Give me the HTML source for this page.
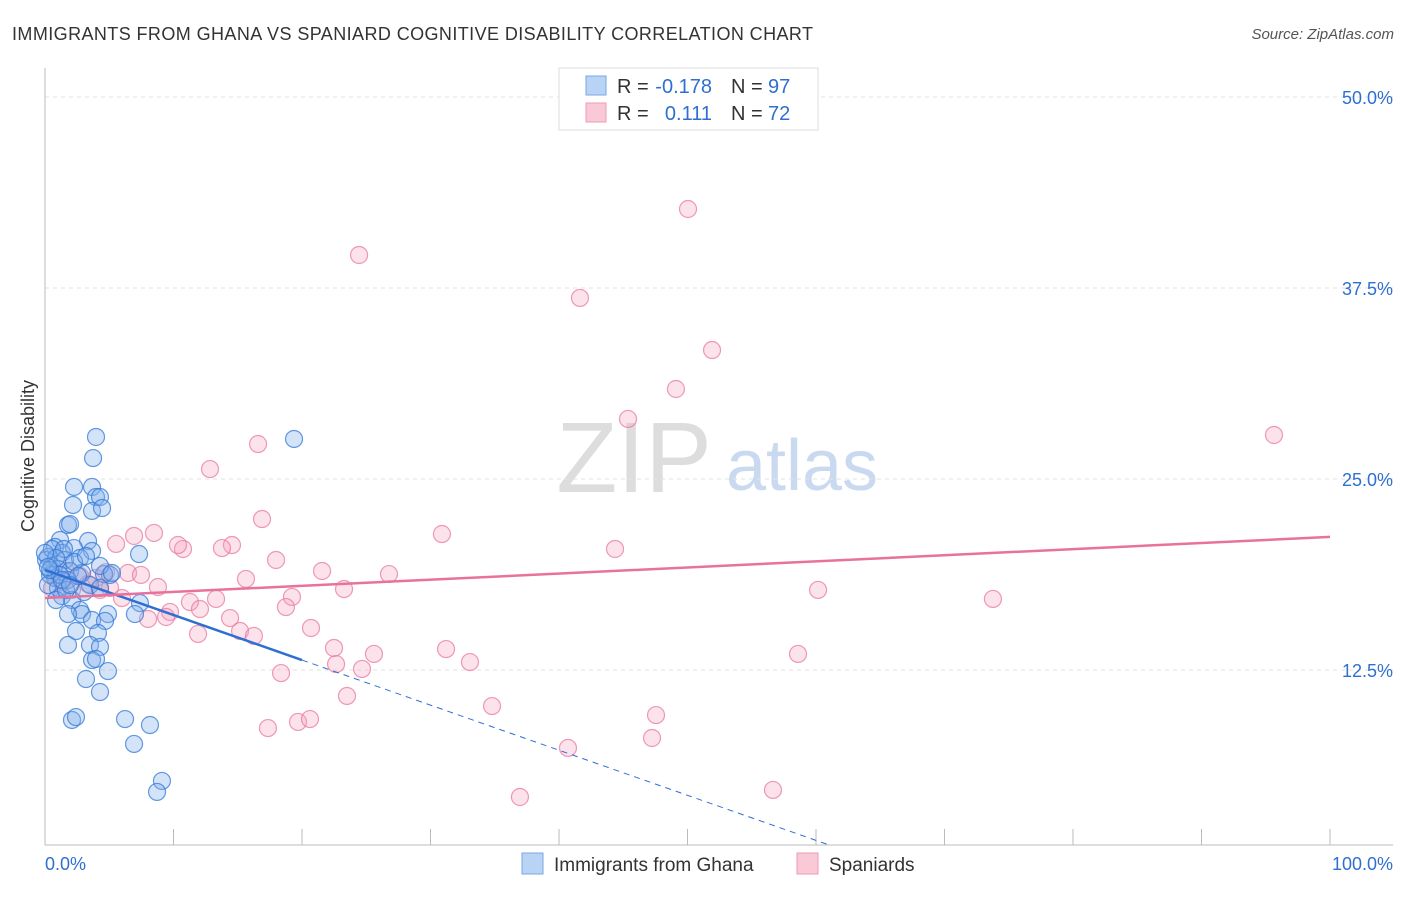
<!DOCTYPE html>
<html><head><meta charset="utf-8"><style>
body{margin:0;background:#fff;font-family:"Liberation Sans",sans-serif}
svg text{font-family:"Liberation Sans",sans-serif}
</style></head><body>
<svg id="c" width="1406" height="892">
<text x="12" y="40" font-size="18" textLength="801" fill="#333">IMMIGRANTS FROM GHANA VS SPANIARD COGNITIVE DISABILITY CORRELATION CHART</text>
<text x="1394" y="39" font-size="15" fill="#555" font-style="italic" text-anchor="end">Source: ZipAtlas.com</text>
<text x="34" y="456" font-size="18" fill="#333" text-anchor="middle" transform="rotate(-90 34 456)">Cognitive Disability</text>
<g><text x="634" y="492" font-size="100" fill="#ddd" font-family="Liberation Serif" text-anchor="middle">ZIP</text><text x="802" y="490" font-size="72" fill="#c9d9f0" text-anchor="middle">atlas</text></g>
<g id="grid"></g><g id="pts"></g><g id="lines"></g>
<g>
<rect x="559" y="68" width="259" height="62" fill="#fff" stroke="#ddd"/>
<rect x="586" y="76" width="20" height="19" fill="#b9d3f5" stroke="#7aa6e6"/>
<rect x="586" y="103" width="20" height="19" fill="#f9c9d8" stroke="#ee99b6"/>
<text x="617" y="93" font-size="20" fill="#333">R =</text><text x="712" y="93" font-size="20" fill="#2f6fd1" text-anchor="end">-0.178</text>
<text x="731" y="93" font-size="20" fill="#333">N =</text><text x="768" y="93" font-size="20" fill="#2f6fd1">97</text>
<text x="617" y="120" font-size="20" fill="#333">R =</text><text x="712" y="120" font-size="20" fill="#2f6fd1" text-anchor="end">0.111</text>
<text x="731" y="120" font-size="20" fill="#333">N =</text><text x="768" y="120" font-size="20" fill="#2f6fd1">72</text>
</g>
<g>
<rect x="522" y="853" width="21" height="21" fill="#b9d3f5" stroke="#7aa6e6"/>
<text x="554" y="871" font-size="19" fill="#333">Immigrants from Ghana</text>
<rect x="797" y="853" width="21" height="21" fill="#f9c9d8" stroke="#ee99b6"/>
<text x="829" y="871" font-size="19" fill="#333">Spaniards</text>
</g>
</svg>
<script>
const yTicks=[12.5,25,37.5,50];
const yTickLabels=["12.5%","25.0%","37.5%","50.0%"];
const xTickLabels=["0.0%","100.0%"];
const ghanaX=[3.97,3.74,2.26,3.66,3.97,4.28,2.18,3.66,4.44,1.79,1.95,1.17,3.35,2.26,0.78,3.66,7.32,0.23,1.32,1.56,2.72,0.54,1.01,1.95,2.88,5.06,4.59,0.78,1.79,3.5,4.28,1.01,1.32,2.1,7.39,2.72,2.88,4.9,7.0,1.79,3.66,4.67,2.41,4.12,3.5,1.79,4.28,3.66,3.97,4.9,3.19,4.28,2.1,2.41,6.23,8.17,6.93,9.1,8.72,19.38,0.39,0.08,0.23,0.86,1.17,1.63,3.04,2.26,0.54,1.48,2.57,3.19,4.28,5.21,0.86,0.39,1.32,1.95,0,0.23];
const ghanaY=[27.75,26.37,24.48,24.48,23.82,23.82,23.3,22.91,23.1,21.99,22.05,21.01,20.94,20.48,20.55,20.29,20.09,19.9,20.16,19.7,19.83,19.31,19.11,18.98,18.85,18.72,18.78,18.52,18.39,18.06,17.87,17.87,17.34,17.08,16.88,16.43,16.16,16.16,16.16,16.16,15.77,15.71,15.05,14.92,14.14,14.14,14.01,13.15,13.22,12.43,11.91,11.06,9.23,9.42,9.29,8.9,7.66,5.24,4.52,27.62,18.72,19.7,18.06,17.08,18.72,17.74,17.6,19.57,20.42,20.42,18.65,19.96,19.31,18.85,19.83,19.04,18.39,18.06,20.16,19.24];
const spanX=[50.04,24.44,41.63,51.91,49.1,45.37,95.64,16.58,12.84,16.89,30.89,44.36,8.48,10.74,10.35,14.55,13.77,5.53,6.93,17.98,21.56,26.77,15.64,6.46,7.47,4.75,8.79,23.27,60.16,73.77,19.22,2.1,4.28,5.99,11.28,13.31,18.75,9.73,14.4,9.42,12.06,8.02,20.7,11.91,15.18,16.26,22.49,31.21,25.6,33.07,58.6,22.65,24.67,18.37,23.5,34.79,47.55,47.24,17.35,19.69,20.62,40.7,36.96,56.65,0.86,1.32,1.63,2.72,3.35,3.97,0.54,5.06];
const spanY=[42.67,39.66,36.85,33.44,30.89,28.93,27.88,27.29,25.65,22.38,21.4,20.42,21.47,20.42,20.68,20.68,20.48,20.75,21.27,19.7,18.98,18.78,18.46,18.85,18.72,18.91,17.93,17.8,17.74,17.15,17.28,17.74,17.74,17.21,16.95,17.15,16.62,16.3,15.9,15.97,16.49,15.84,15.25,14.86,15.05,14.73,13.94,13.87,13.55,13.02,13.55,12.89,12.57,12.3,10.8,10.14,9.55,8.05,8.7,9.1,9.29,7.4,4.19,4.65,18.52,18.26,18.98,18.65,18.13,18.52,17.87,17.87];
const ghanaTrend=[19.05,-0.295];
const spanTrend=[17.21,0.04];
const NS="http://www.w3.org/2000/svg";
const sx=v=>45+v*12.85, sy=v=>861-v*15.28;
function mk(tag,a,p){const e=document.createElementNS(NS,tag);for(const k in a)e.setAttribute(k,a[k]);p.appendChild(e);return e;}
const grid=document.getElementById('grid');
yTicks.forEach((t,i)=>{
 const l=mk('line',{x1:45,x2:1393,y1:sy(t),y2:sy(t),stroke:'#e2e2e2','stroke-dasharray':'4 4'},grid);
 
 
 const tx=mk('text',{x:1393,y:sy(t)+7,'font-size':18,fill:'#2f6fd1','text-anchor':'end'},grid);tx.textContent=yTickLabels[i];
 
 
});
mk('line',{x1:45,x2:45,y1:68,y2:845,stroke:'#bbb'},grid);
mk('line',{x1:45,x2:1393,y1:845,y2:845,stroke:'#bbb'},grid);
for(let i=0;i<=10;i++){mk('line',{x1:sx(i*10),x2:sx(i*10),y1:829,y2:845,stroke:'#bbb'},grid);}
[[0,45,'start'],[1,1393,'end']].forEach(([i,x,a])=>{const t=mk('text',{x:x,y:870,'font-size':18,fill:'#2f6fd1','text-anchor':a},grid);t.textContent=xTickLabels[i];
 
 });
const pts=document.getElementById('pts');
spanX.forEach((x,i)=>{const c=mk('circle',{cx:sx(x),cy:sy(spanY[i]),r:8.5,fill:'rgba(244,160,190,0.3)',stroke:'rgba(232,120,160,0.75)','stroke-width':1.2},pts);
 
 });
ghanaX.forEach((x,i)=>{const c=mk('circle',{cx:sx(x),cy:sy(ghanaY[i]),r:8.5,fill:'rgba(130,175,235,0.35)',stroke:'rgba(50,120,215,0.75)','stroke-width':1.2},pts);
 
 });
const ln=document.getElementById('lines');
const f=(t,x)=>t[0]+t[1]*x;
let a=mk('line',{x1:sx(0),y1:sy(f(ghanaTrend,0)),x2:sx(20),y2:sy(f(ghanaTrend,20)),stroke:'#2f6fd1','stroke-width':2.5},ln);


let b=mk('line',{x1:sx(20),y1:sy(f(ghanaTrend,20)),x2:sx(61),y2:sy(f(ghanaTrend,61)),stroke:'#2f6fd1','stroke-width':1,'stroke-dasharray':'6 5'},ln);


let c=mk('line',{x1:sx(0),y1:sy(f(spanTrend,0)),x2:sx(100),y2:sy(f(spanTrend,100)),stroke:'#e8729b','stroke-width':2.5},ln);


</script>
</body></html>
